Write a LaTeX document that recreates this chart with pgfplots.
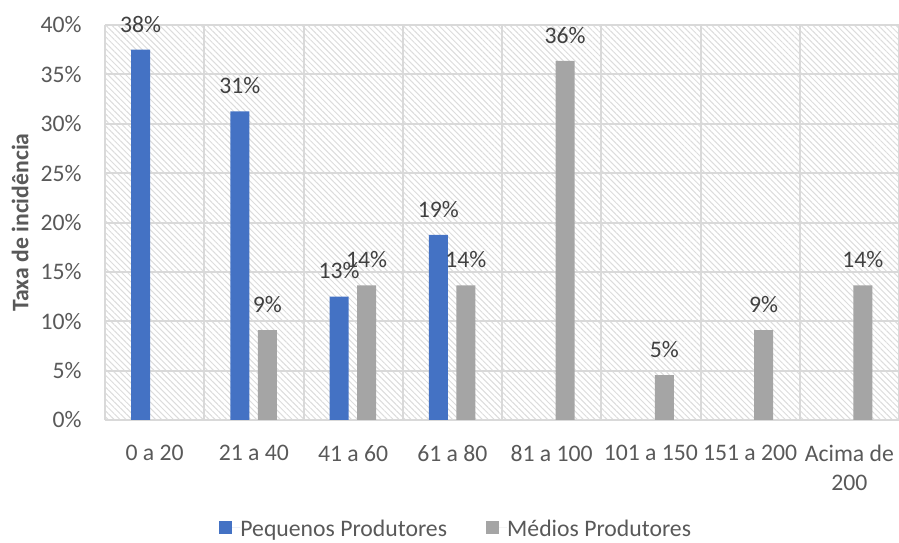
\documentclass[border=0pt]{standalone}
\usepackage{pgfplots}
\pgfplotsset{compat=1.18}
\usepackage{fontspec}
\setmainfont{Carlito}
\usetikzlibrary{patterns.meta}
\pgfkeys{/pgf/number format/assume math mode=true}

\definecolor{pequenos}{HTML}{4472C4}
\definecolor{medios}{HTML}{A5A5A5}
\definecolor{gridgray}{HTML}{D9D9D9}
\definecolor{hatchgray}{HTML}{DCDCDC}
\definecolor{ticktext}{HTML}{595959}
\definecolor{datatext}{HTML}{404040}

\newcommand{\chartfont}{\fontsize{11.85bp}{14.5bp}\selectfont}

\begin{document}
\begin{tikzpicture}
\begin{axis}[
  /pgf/number format/assume math mode=true,
  scale only axis,
  width=397bp, height=197.5bp,
  xmin=-0.5, xmax=7.5,
  ymin=0, ymax=40,
  ybar, bar width=9.5bp,
  axis line style={draw=none},
  major tick length=0pt, minor tick length=0pt,
  xtick={0,...,7},
  xticklabels={0 a 20, 21 a 40, 41 a 60, 61 a 80, 81 a 100, 101 a 150, 151 a 200, {Acima de\\200}},
  xticklabel style={align=center, anchor=north, inner sep=0pt, yshift=-12.5bp, font=\chartfont, text=ticktext},
  minor xtick={-0.5,0.5,...,7.5},
  xminorgrids, ymajorgrids,
  ytick={0,5,...,40},
  yticklabel={\pgfmathprintnumber{\tick}\%},
  yticklabel style={anchor=east, inner sep=0pt, xshift=-11.5bp, font=\chartfont, text=ticktext},
  grid style={draw=gridgray, line width=1bp},
  minor grid style={draw=gridgray, line width=1bp},
  axis background/.style={pattern={Lines[angle=-45, distance=2.1bp, line width=0.5bp]}, pattern color=hatchgray},
  ylabel={\bfseries Taxa de incidência},
  ylabel style={at={(axis description cs:-0.107,0.5)}, anchor=center, font=\chartfont, text=ticktext},
  nodes near coords={\pgfmathprintnumber[fixed,precision=0,assume math mode=true]{\pgfplotspointmeta}\%},
  every node near coord/.append style={font=\chartfont, text=datatext, anchor=south, inner sep=0pt, yshift=8.5bp},
  legend columns=2,
  legend style={at={(axis description cs:0.441,-0.273)}, anchor=center, draw=none, fill=none,
    font=\chartfont, text=ticktext,
    /tikz/every even column/.append style={column sep=19.5bp},
    nodes={inner sep=0pt, text depth=0pt}},
  legend image code/.code={\fill[#1] (0bp,-3.3bp) rectangle (6.6bp,3.3bp); \path (0bp,0bp) -- (10.6bp,0bp);},
]
\addplot[fill=pequenos, draw=none, bar shift=-7bp] coordinates {
  (0,37.5) (1,31.25) (2,12.5) (3,18.75)
};
\addlegendentry{Pequenos Produtores}
\addplot[fill=medios, draw=none, bar shift=6.75bp] coordinates {
  (1,9.0909) (2,13.6364) (3,13.6364) (4,36.3636) (5,4.5455) (6,9.0909) (7,13.6364)
};
\addlegendentry{Médios Produtores}
\end{axis}
\pgfresetboundingbox
\path[use as bounding box] (-52.5bp,-61.5bp) rectangle (397bp,210bp);
\end{tikzpicture}
\end{document}
